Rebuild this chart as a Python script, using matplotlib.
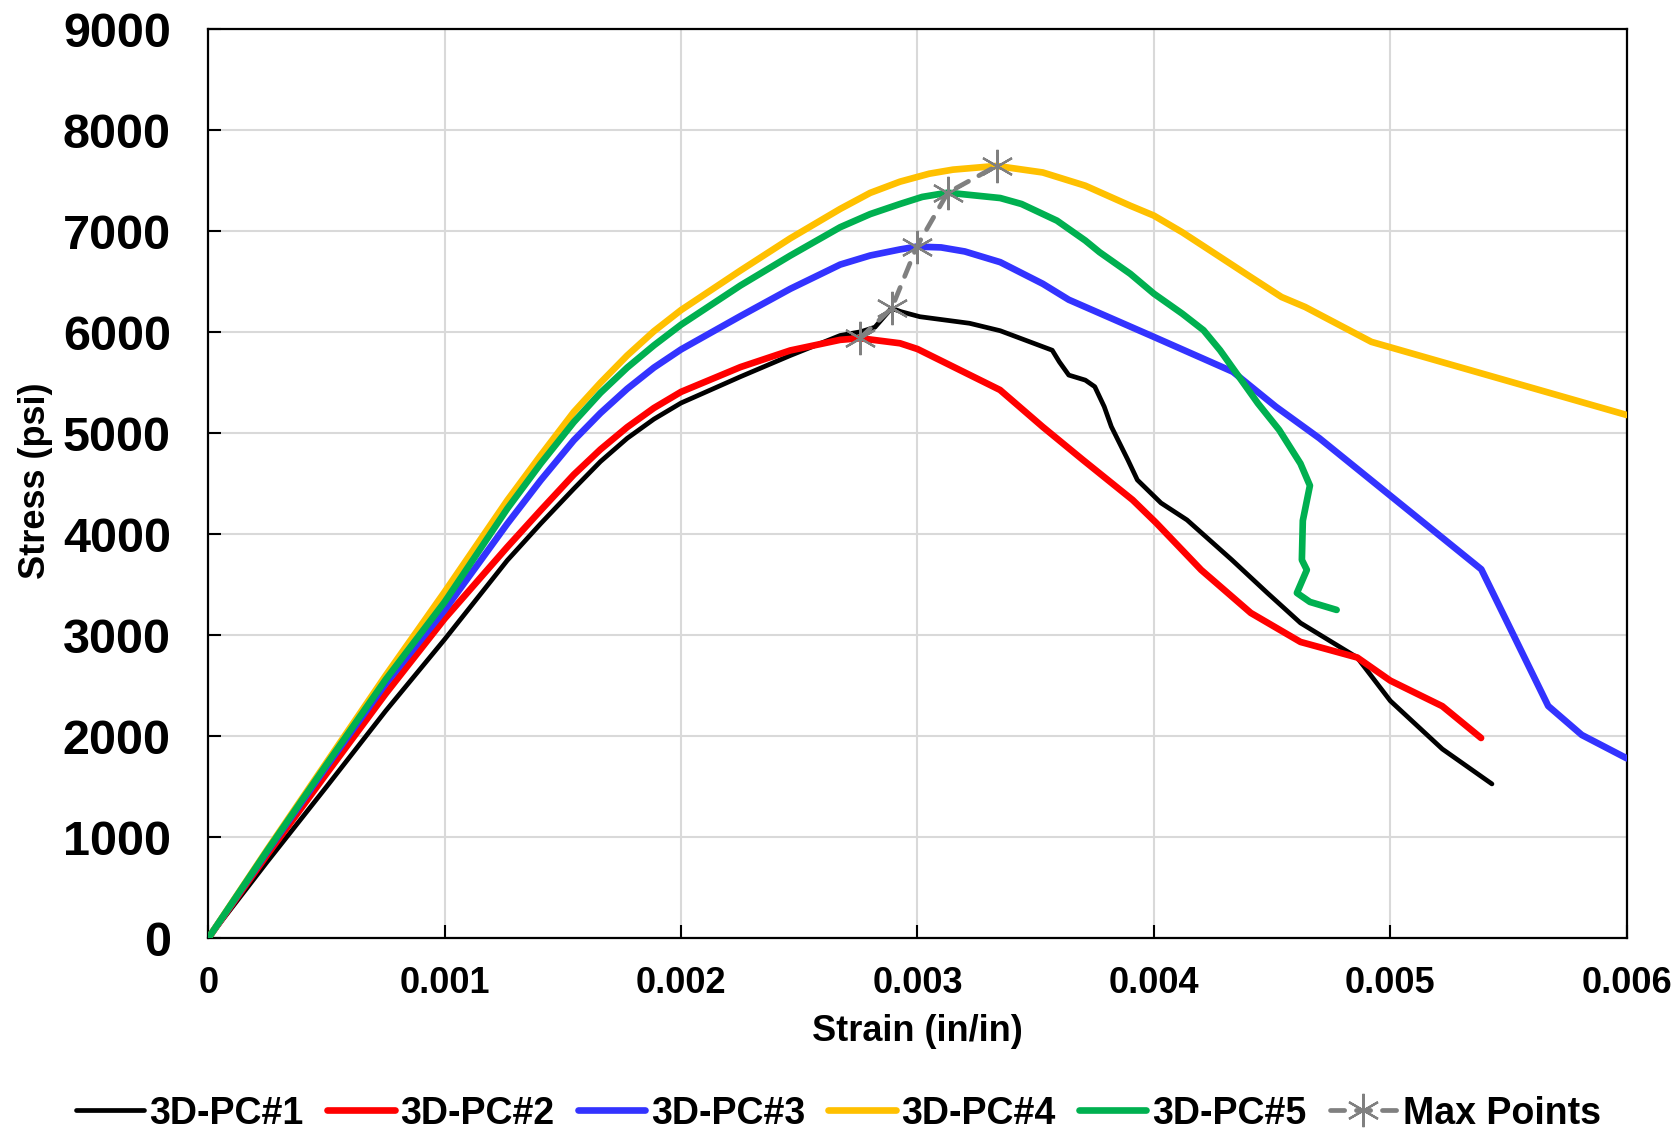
import matplotlib
matplotlib.use("Agg")
import matplotlib.pyplot as plt

plt.rcParams['font.family'] = ['Liberation Sans', 'DejaVu Sans']
plt.rcParams['font.weight'] = 'bold'

# curvas esfuerzo-deformacion
strain_1 = [0, 0.00025, 0.0005, 0.00075, 0.001, 0.001265, 0.001406, 0.001546, 0.001659, 0.001772,
            0.001885, 0.002, 0.002251, 0.002462, 0.002673, 0.00276, 0.00282, 0.00289,
            0.00293, 0.00301, 0.00322, 0.00335, 0.00357, 0.0036, 0.00364, 0.00371, 0.00375,
            0.00379, 0.00382, 0.00389, 0.00393, 0.00403, 0.00414, 0.00433, 0.00448, 0.00462,
            0.00486, 0.005, 0.00522, 0.00543]
stress_1 = [0, 760, 1500, 2250, 2960, 3742, 4105, 4450, 4720, 4950,
            5140, 5300, 5560, 5770, 5968, 6005, 6050, 6238,
            6204, 6154, 6089, 6015, 5822, 5707, 5576, 5526, 5461,
            5263, 5066, 4736, 4538, 4310, 4142, 3746, 3419, 3122,
            2780, 2351, 1874, 1528]

strain_2 = [0, 0.00025, 0.0005, 0.00075, 0.001, 0.001265, 0.001406, 0.001546, 0.001659, 0.001772,
            0.001885, 0.002, 0.002251, 0.002462, 0.002673, 0.002757, 0.002926, 0.003,
            0.003349, 0.00353, 0.0037, 0.00391, 0.00401, 0.0042, 0.00441, 0.00462, 0.00486,
            0.005, 0.00522, 0.005384]
stress_2 = [0, 830, 1630, 2420, 3165, 3874, 4237, 4590, 4840, 5060,
            5250, 5410, 5655, 5820, 5925, 5941, 5891, 5834,
            5429, 5063, 4736, 4340, 4112, 3647, 3221, 2934, 2780,
            2551, 2298, 1983]

strain_3 = [0, 0.00025, 0.0005, 0.00075, 0.001, 0.001265, 0.001406, 0.001546, 0.001659, 0.001772,
            0.001885, 0.002, 0.002251, 0.002462, 0.002673, 0.0028, 0.002926, 0.002997, 0.0031,
            0.0032, 0.00335, 0.00353, 0.00364, 0.004, 0.004334, 0.004516, 0.0047, 0.005385,
            0.005668, 0.00581, 0.006]
stress_3 = [0, 860, 1700, 2520, 3250, 4105, 4534, 4930, 5200, 5440,
            5650, 5830, 6160, 6430, 6670, 6760, 6820, 6848, 6840,
            6800, 6694, 6480, 6322, 5954, 5609, 5263, 4951, 3653,
            2300, 2013, 1782]

strain_4 = [0, 0.00025, 0.0005, 0.00075, 0.001, 0.001265, 0.001406, 0.001546, 0.001659, 0.001772,
            0.001885, 0.002, 0.002251, 0.002462, 0.002673, 0.0028, 0.002926, 0.00305, 0.00315,
            0.003335, 0.00353, 0.00371, 0.0039, 0.004, 0.00412, 0.00426, 0.00441, 0.00454,
            0.00464, 0.00492, 0.006]
stress_4 = [0, 880, 1740, 2600, 3430, 4336, 4781, 5210, 5500, 5770,
            6010, 6220, 6611, 6930, 7221, 7380, 7491, 7570, 7610,
            7647, 7582, 7451, 7253, 7155, 6990, 6776, 6546, 6349,
            6250, 5905, 5181]

strain_5 = [0, 0.00025, 0.0005, 0.00075, 0.001, 0.001265, 0.001406, 0.001546, 0.001659, 0.001772,
            0.001885, 0.002, 0.002251, 0.002462, 0.002673, 0.0028, 0.002926, 0.00302, 0.003128,
            0.00335, 0.00344, 0.00359, 0.00371, 0.00377, 0.0039, 0.004, 0.00412, 0.00421,
            0.00428, 0.00437, 0.00444, 0.00453, 0.00462, 0.00466, 0.00463, 0.004626, 0.004647,
            0.004605, 0.00466, 0.004773]
stress_5 = [0, 870, 1720, 2560, 3330, 4254, 4699, 5110, 5400, 5650,
            5870, 6075, 6463, 6759, 7040, 7170, 7270, 7340, 7382,
            7329, 7270, 7105, 6908, 6793, 6579, 6382, 6184, 6020,
            5822, 5526, 5296, 5033, 4700, 4482, 4135, 3746, 3647,
            3419, 3330, 3251]

max_strain = [0.002757, 0.002891, 0.002997, 0.003128, 0.003335]
max_stress = [5941, 6238, 6848, 7382, 7647]

nombres = ['3D-PC#1', '3D-PC#2', '3D-PC#3', '3D-PC#4', '3D-PC#5']
colores = ['#000000', '#FF0000', '#3333FF', '#FFC000', '#00B050']

x_ticks = [0, 0.001, 0.002, 0.003, 0.004, 0.005, 0.006]
x_labels = ['0', '0.001', '0.002', '0.003', '0.004', '0.005', '0.006']
y_ticks = [0, 1000, 2000, 3000, 4000, 5000, 6000, 7000, 8000, 9000]

fig = plt.figure(figsize=(16.77, 11.34), dpi=100)
ax = fig.add_axes([0.1242, 0.1726, 0.8458, 0.8016])

curvas = [(strain_1, stress_1), (strain_2, stress_2), (strain_3, stress_3),
          (strain_4, stress_4), (strain_5, stress_5)]
for i, (xs, ys) in enumerate(curvas):
    lw = 3.4 if i == 0 else 4.8
    ax.plot(xs, ys, color=colores[i], lw=lw, label=nombres[i],
            solid_joinstyle='round', solid_capstyle='round', zorder=3)

ax.plot(max_strain, max_stress, color='#808080', lw=3.4, ls=(0, (3, 2.5)),
        dash_capstyle='round', marker=(6, 2, 0), markersize=24,
        markeredgewidth=1.6, markeredgecolor='#808080', label='Max Points', zorder=4)

ax.set_xlim(0, 0.006)
ax.set_ylim(0, 9000)
ax.set_xticks(x_ticks)
ax.set_xticklabels(x_labels)
ax.set_yticks(y_ticks)
ax.grid(True, color='#D9D9D9', lw=1.5)
ax.set_axisbelow(True)

for s in ax.spines.values():
    s.set_linewidth(1.6)
    s.set_color('black')

ax.tick_params(axis='both', direction='in', length=9.5, width=1.5)
ax.tick_params(axis='x', labelsize=26, pad=20)
ax.tick_params(axis='y', labelsize=35, pad=27)
for lab in ax.get_xticklabels() + ax.get_yticklabels():
    lab.set_fontweight('bold')

ax.set_xlabel('Strain (in/in)', fontsize=26, fontweight='bold')
ax.set_ylabel('Stress (psi)', fontsize=26, fontweight='bold')
ax.xaxis.set_label_coords(0.5, -0.083)
ax.yaxis.set_label_coords(-0.1095, 0.503)

fig.legend(loc='center', bbox_to_anchor=(0.5, 0.018), ncol=6, frameon=False,
           prop={'size': 27, 'weight': 'bold'}, handlelength=1.8,
           handletextpad=0.15, columnspacing=0.62, borderaxespad=0)

fig.savefig('out.png', dpi=100)
